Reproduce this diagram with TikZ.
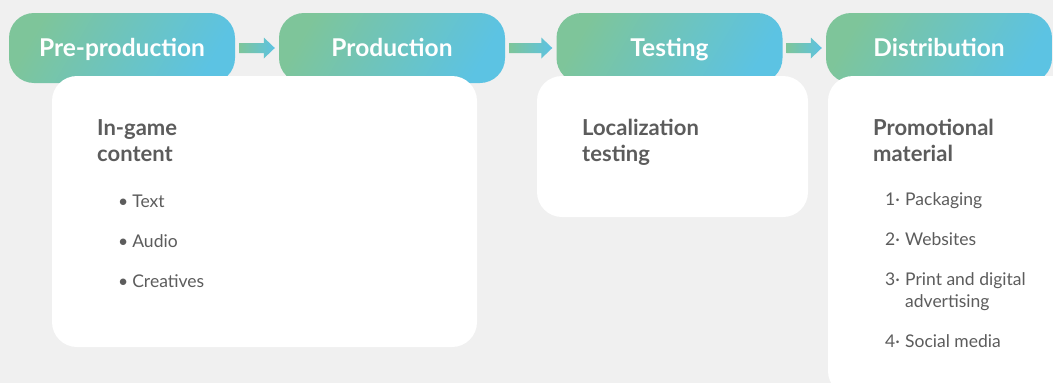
\documentclass[tikz,border=0pt]{standalone}
\usepackage{fontspec}
\setmainfont{Lato}
\usetikzlibrary{calc}

\definecolor{bgc}{HTML}{F0F0F0}
\definecolor{gstart}{HTML}{7EC59A}
\definecolor{gend}{HTML}{5CC3E3}
\definecolor{txt}{HTML}{5C5C5C}

\tikzset{
  stage/.style={rectangle, rounded corners=25pt, minimum width=226pt, minimum height=70pt,
    inner sep=0pt, text height=17pt, text depth=1pt, text=white,
    font=\bfseries\fontsize{24.5}{28}\selectfont,
    left color=gstart, right color=gend, shading angle=60},
  card/.style={rectangle, rounded corners=25pt, fill=white, draw=none, inner sep=0pt},
  heading/.style={anchor=base west, inner sep=0pt, text=txt, align=left,
    font=\bfseries\fontsize{22}{26}\selectfont},
  item/.style={anchor=base west, inner sep=0pt, text=txt,
    font=\fontsize{17.5}{22}\selectfont},
  flowarrow/.style={left color=gstart, right color=gend, draw=none},
}

% block arrow between two stages
\newcommand{\stagearrow}[2]{%
  \shade[flowarrow]
    ($(#1.east)+(4,-5)$) -- ($(#2.west)+(-15,-5)$) -- ($(#2.west)+(-15,-10.5)$)
    -- ($(#2.west)+(-4,0)$) -- ($(#2.west)+(-15,10.5)$) -- ($(#2.west)+(-15,5)$)
    -- ($(#1.east)+(4,5)$) -- cycle;}

\begin{document}
\begin{tikzpicture}[x=1pt, y=-1pt]
  \useasboundingbox (0,0) rectangle (1053,383);
  \clip (0,0) rectangle (1053,383);
  \fill[bgc] (0,0) rectangle (1053,383);

  % stages
  \node[stage] (pre)  at (122,48)   {Pre-production};
  \node[stage] (prod) at (392,48)   {Production};
  \node[stage] (test) at (669.5,48) {Testing};
  \node[stage] (dist) at (939,48)   {Distribution};

  \stagearrow{pre}{prod}
  \stagearrow{prod}{test}
  \stagearrow{test}{dist}

  % detail cards
  \node[card, minimum width=425pt, minimum height=271pt] (c1) at (264.5,211.5) {};
  \node[card, minimum width=271pt, minimum height=141pt] (c2) at (672.5,146.5) {};
  \node[card, minimum width=290pt, minimum height=320pt] (c3) at (973,236) {};

  % in-game content (baseline of the last line)
  \node[heading] (h1) at (97,161) {In-game\\content};
  \node[item] (t1) at (118,207) {•\hspace{4pt}Text};
  \node[item] (t2) at (118,247) {•\hspace{4pt}Audio};
  \node[item] (t3) at (118,287) {•\hspace{4pt}Creatives};

  % localization testing
  \node[heading] (h2) at (582,161) {Localization\\testing};

  % promotional material
  \node[heading] (h3) at (873,161) {Promotional\\material};
  \node[item] (p1) at (885,205) {\makebox[20pt][l]{1·}Packaging};
  \node[item] (p2) at (885,245) {\makebox[20pt][l]{2·}Websites};
  \node[item] (p3) at (885,285) {\begin{tabular}[t]{@{}l@{}l@{}}\makebox[20pt][l]{3·}&Print and digital\\&advertising\end{tabular}};
  \node[item] (p4) at (885,347) {\makebox[20pt][l]{4·}Social media};
\end{tikzpicture}
\end{document}
